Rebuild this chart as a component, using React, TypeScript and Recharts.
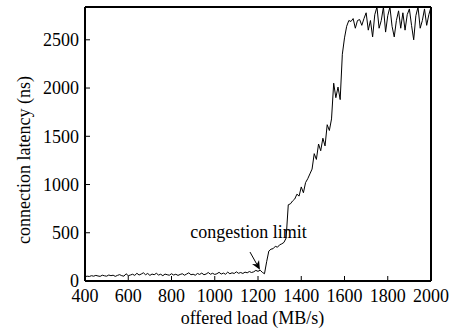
import React from 'react';
import { LineChart, Line, XAxis, YAxis, ReferenceLine, ReferenceDot } from 'recharts';

const loads = [
  400, 410, 420, 430, 440, 450, 460, 470, 480, 490,
  500, 510, 520, 530, 540, 550, 560, 570, 580, 590,
  600, 610, 620, 630, 640, 650, 660, 670, 680, 690,
  700, 710, 720, 730, 740, 750, 760, 770, 780, 790,
  800, 810, 820, 830, 840, 850, 860, 870, 880, 890,
  900, 910, 920, 930, 940, 950, 960, 970, 980, 990,
  1000, 1010, 1020, 1030, 1040, 1050, 1060, 1070, 1080, 1090,
  1100, 1110, 1120, 1130, 1140, 1150, 1160, 1170, 1180, 1190,
  1200, 1210, 1220, 1230, 1240, 1250, 1260, 1270, 1280, 1290,
  1300, 1310, 1320, 1330, 1340, 1350, 1360, 1370, 1380, 1390,
  1400, 1410, 1420, 1430, 1440, 1450, 1460, 1470, 1480, 1490,
  1500, 1510, 1520, 1530, 1540, 1550, 1560, 1570, 1580, 1590,
  1600, 1610, 1620, 1630, 1640, 1650, 1660, 1670, 1680, 1690,
  1700, 1710, 1720, 1730, 1740, 1750, 1760, 1770, 1780, 1790,
  1800, 1810, 1820, 1830, 1840, 1850, 1860, 1870, 1880, 1890,
  1900, 1910, 1920, 1930, 1940, 1950, 1960, 1970, 1980, 1990,
  2000,
];

const latency = [
  45, 50, 47, 55, 50, 58, 52, 48, 60, 54,
  50, 62, 55, 60, 48, 58, 66, 55, 50, 75,
  55, 62, 70, 58, 80, 62, 72, 85, 65, 78,
  58, 72, 65, 80, 62, 70, 55, 72, 65, 60,
  75, 62, 70, 58, 68, 75, 60, 72, 85, 65,
  70, 60, 78, 68, 82, 65, 72, 88, 70, 80,
  68, 75, 90, 72, 82, 70, 92, 75, 85, 78,
  95, 80, 88, 78, 92, 85, 98, 88, 95, 110,
  100, 112, 90, 75, 200, 310, 330, 335, 360, 350,
  375, 385, 400, 445, 790, 800, 830, 850, 900, 880,
  975, 915, 1020, 1060, 1110, 1160, 1320, 1260, 1420, 1350,
  1480, 1400, 1620, 1560, 1680, 2050, 1900, 2010, 1880, 2350,
  2520, 2640, 2700, 2690, 2720, 2620, 2700, 2710, 2650, 2720,
  2780, 2600, 2700, 2530, 2760, 2840, 2620, 2700, 2840, 2580,
  2750, 2840, 2640, 2530, 2700, 2800, 2620, 2780, 2600, 2760,
  2820, 2650, 2500, 2750, 2840, 2620, 2700, 2820, 2650, 2760,
  2840,
];

const xTicks = [400, 600, 800, 1000, 1200, 1400, 1600, 1800, 2000];
const yTicks = [0, 500, 1000, 1500, 2000, 2500];
const xDomain = [400, 2000];
const yDomain = [0, 2840];

const xTitle = 'offered load (MB/s)';
const yTitle = 'connection latency (ns)';
const noteText = 'congestion limit';
const noteAt = { load: 1156, latency: 508 };
const arrowFrom = { load: 1163, latency: 300 };
const arrowTo = { load: 1209, latency: 116 };

const rows = loads.map((load, i) => ({ load, latency: latency[i] }));

const FONT = '"Liberation Serif", "Times New Roman", serif';
const tickStyle = { fill: '#000', fontSize: 18, fontFamily: FONT };
const axisLineStyle = { stroke: '#000', strokeWidth: 2 };
const tickLineStyle = { stroke: '#000', strokeWidth: 1 };

const Arrow = (props: any) => {
  const { x1, y1, x2, y2 } = props;
  const ang = Math.atan2(y2 - y1, x2 - x1);
  const len = 9;
  const w = 4;
  const bx = x2 - len * Math.cos(ang);
  const by = y2 - len * Math.sin(ang);
  const mx = x2 - len * 0.7 * Math.cos(ang);
  const my = y2 - len * 0.7 * Math.sin(ang);
  const px = -Math.sin(ang) * w;
  const py = Math.cos(ang) * w;
  return (
    <g>
      <line x1={x1} y1={y1} x2={mx} y2={my} stroke="#000" strokeWidth={1} />
      <polygon
        points={`${x2},${y2} ${bx + px},${by + py} ${mx},${my} ${bx - px},${by - py}`}
        fill="#000"
      />
    </g>
  );
};

const YTitle = () => (
  <text
    x={24}
    y={160}
    transform="rotate(-90 24 160)"
    textAnchor="middle"
    dominantBaseline="central"
    fontSize={18}
    fontFamily={FONT}
    fill="#000"
  >
    {yTitle}
  </text>
);

const XTitle = () => (
  <text x={252.5} y={324} textAnchor="middle" fontSize={18} fontFamily={FONT} fill="#000">
    {xTitle}
  </text>
);

export default function App() {
  return (
    <div style={{ position: 'absolute', left: 0, top: 0, background: '#fff' }}>
      <LineChart
        width={454}
        height={330}
        data={rows}
        margin={{ top: 6, right: 22, bottom: 0, left: 0 }}
      >
        <XAxis
          dataKey="load"
          type="number"
          domain={xDomain}
          ticks={xTicks}
          interval={0}
          height={49}
          tickSize={-5}
          tickMargin={13}
          axisLine={axisLineStyle}
          tickLine={tickLineStyle}
          tick={tickStyle}
          allowDataOverflow
          label={{ content: () => <XTitle /> }}
        />
        <XAxis
          xAxisId="top"
          orientation="top"
          dataKey="load"
          type="number"
          domain={xDomain}
          ticks={xTicks}
          interval={0}
          height={1}
          tickSize={-5}
          axisLine={axisLineStyle}
          tickLine={tickLineStyle}
          tick={false}
          allowDataOverflow
        />
        <YAxis
          type="number"
          domain={yDomain}
          ticks={yTicks}
          interval={0}
          width={85}
          tickSize={-5}
          tickMargin={11}
          axisLine={axisLineStyle}
          tickLine={tickLineStyle}
          tick={tickStyle}
          allowDataOverflow
          label={{ content: () => <YTitle /> }}
        />
        <YAxis
          yAxisId="right"
          orientation="right"
          type="number"
          domain={yDomain}
          ticks={yTicks}
          interval={0}
          width={1}
          tickSize={-5}
          axisLine={axisLineStyle}
          tickLine={tickLineStyle}
          tick={false}
          allowDataOverflow
        />
        <Line
          type="linear"
          dataKey="latency"
          stroke="#000"
          strokeWidth={1}
          dot={false}
          isAnimationActive={false}
        />
        <ReferenceLine
          segment={[
            { x: arrowFrom.load, y: arrowFrom.latency },
            { x: arrowTo.load, y: arrowTo.latency },
          ]}
          ifOverflow="visible"
          shape={Arrow}
        />
        <ReferenceDot
          x={noteAt.load}
          y={noteAt.latency}
          r={0}
          fill="none"
          stroke="none"
          ifOverflow="visible"
          label={{
            value: noteText,
            position: 'center',
            fill: '#000',
            fontSize: 18,
            fontFamily: FONT,
          }}
        />
      </LineChart>
    </div>
  );
}
